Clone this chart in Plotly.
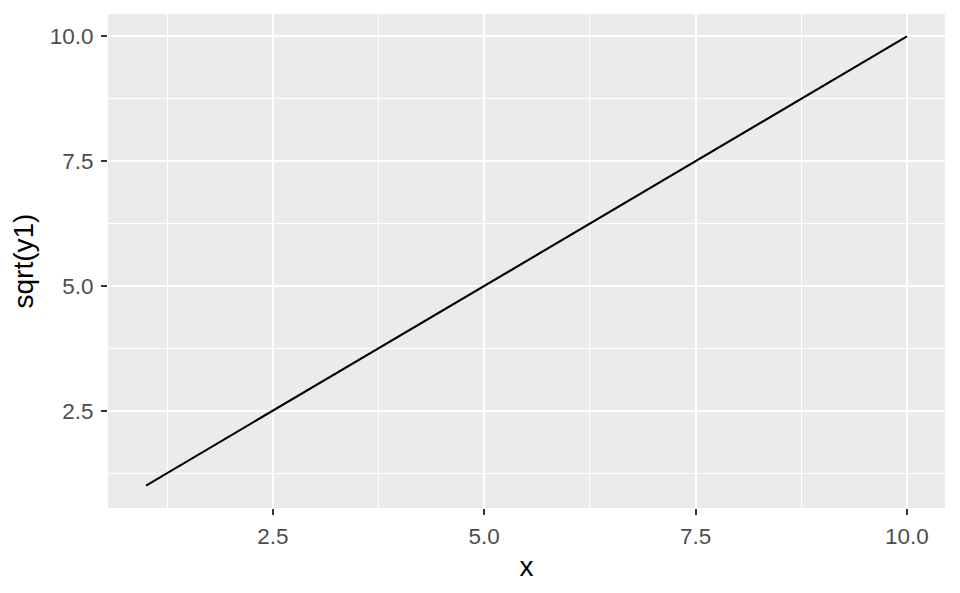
import plotly.graph_objects as go

x = [1, 2, 3, 4, 5, 6, 7, 8, 9, 10]
y = [1, 2, 3, 4, 5, 6, 7, 8, 9, 10]
tickvals = [2.5, 5.0, 7.5, 10.0]
ticktext = ["2.5", "5.0", "7.5", "10.0"]

FONT = "Liberation Sans, Arial, Helvetica"

fig = go.Figure()
fig.add_trace(go.Scatter(x=x, y=y, mode="lines",
                         line=dict(color="black", width=2.1), showlegend=False))

axis_common = dict(
    showgrid=True, gridcolor="white", gridwidth=2.1,
    zeroline=False, showline=False,
    ticks="outside", ticklen=6, tickwidth=2.1, tickcolor="#333333",
    tickfont=dict(family=FONT, size=22.5, color="#4D4D4D"),
    minor=dict(dtick=2.5, tick0=1.25, showgrid=True, gridcolor="white", gridwidth=1.1, ticks=""),
    tickvals=tickvals, ticktext=ticktext,
)

fig.update_xaxes(range=[0.55, 10.45],
                 title=dict(text="x", font=dict(family=FONT, size=28, color="black"), standoff=8),
                 ticklabelstandoff=2,
                 **axis_common)
fig.update_yaxes(range=[0.55, 10.45],
                 title=dict(text="sqrt(y1)", font=dict(family=FONT, size=28, color="black"), standoff=8),
                 ticklabelstandoff=3,
                 **axis_common)

fig.update_layout(
    width=952, height=585,
    margin=dict(l=100, r=15, t=6, b=85),
    plot_bgcolor="#EBEBEB", paper_bgcolor="white",
)

fig.write_html("out.html")
